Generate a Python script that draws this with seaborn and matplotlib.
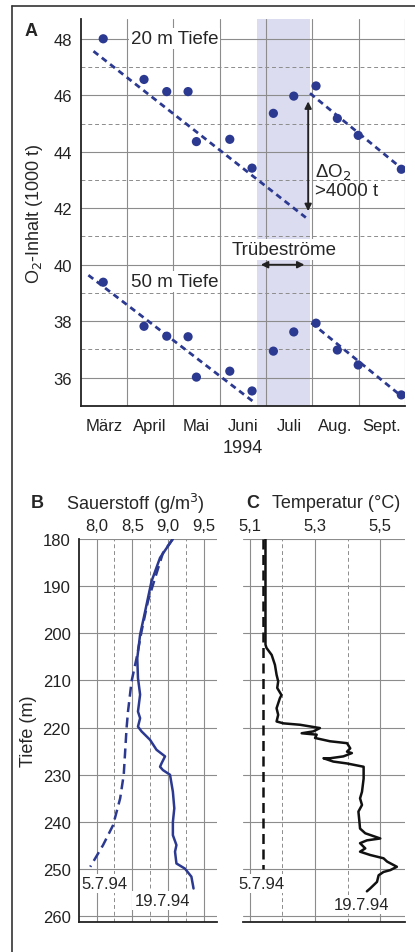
import numpy as np
import pandas as pd
import seaborn as sns
import matplotlib.pyplot as plt
from matplotlib.lines import Line2D

# --- panel A: O2 content, month position (0 = 1 March, 1 month per unit)
months = ['März', 'April', 'Mai', 'Juni', 'Juli', 'Aug.', 'Sept.']
t_obs = [0.49, 1.37, 1.86, 2.32, 2.50, 3.22, 3.70, 4.16, 4.60, 5.08, 5.54, 5.99, 6.92]
o2_20m = [48.0, 46.56, 46.13, 46.13, 44.36, 44.44, 43.42, 45.36, 45.97, 46.33, 45.18, 44.58, 43.38]
o2_50m = [39.38, 37.82, 37.47, 37.45, 36.02, 36.23, 35.53, 36.94, 37.62, 37.93, 36.98, 36.45, 35.39]
trend_20m_a = ([0.28, 4.86], [47.56, 41.67])
trend_20m_b = ([4.95, 6.95], [46.07, 43.38])
trend_50m_a = ([0.17, 3.76], [39.63, 35.11])
trend_50m_b = ([4.98, 6.92], [37.94, 35.35])
turbid = (3.81, 4.94)

# --- panel B: oxygen profiles (g/m3) vs depth (m)
o2_0507_val = [9.07, 8.93, 8.82, 8.72, 8.63, 8.56, 8.49, 8.44, 8.42, 8.38, 8.33, 8.23, 8.09, 7.91]
o2_0507_dep = [180, 183, 188.3, 193.2, 199.6, 205.3, 210.2, 216.6, 220.1, 230, 235, 240.7, 244.9, 249.5]
o2_1907_val = [9.07, 8.89, 8.77, 8.68, 8.61, 8.57, 8.58, 8.61, 8.58, 8.61, 8.58, 8.63, 8.75, 8.84,
               8.96, 8.91, 8.89, 8.93, 9.03, 9.07, 9.09, 9.07, 9.07, 9.12, 9.10, 9.12, 9.24, 9.33, 9.36]
o2_1907_dep = [180, 184, 189, 195.4, 200.3, 205.3, 209.5, 213, 216.6, 218, 219.8, 220.8, 222.6, 224.7,
               226.1, 227.6, 228.3, 229, 230, 233.6, 237.1, 240, 242.8, 244.9, 246.3, 248.8, 249.9, 251.6, 254.1]

# --- panel C: temperature profiles (°C) vs depth (m)
t_0507_val = [5.141, 5.141]
t_0507_dep = [180, 250]
t_1907_val = [5.148, 5.148, 5.151, 5.167, 5.177, 5.182, 5.187, 5.184, 5.197, 5.192, 5.182, 5.187, 5.182,
              5.203, 5.254, 5.315, 5.295, 5.259, 5.305, 5.300, 5.346, 5.398, 5.408, 5.398, 5.413, 5.387,
              5.346, 5.326, 5.356, 5.398, 5.449, 5.449, 5.444, 5.438, 5.444, 5.433, 5.436, 5.438, 5.454,
              5.500, 5.459, 5.438, 5.454, 5.438, 5.469, 5.510, 5.521, 5.551, 5.531, 5.510, 5.495, 5.490,
              5.469, 5.459]
t_1907_dep = [180, 202.4, 203.1, 204.6, 206.7, 208.8, 210.2, 211.6, 213.1, 213.8, 215.9, 217.3, 218.7,
              219.1, 219.4, 220.1, 220.8, 221.2, 221.5, 222.2, 222.9, 223.3, 224.4, 225.1, 225.4, 226.1,
              226.5, 226.5, 227.2, 227.6, 228.3, 230.8, 233.6, 235, 236.4, 237.8, 239.9, 241.4, 242.4,
              243.5, 243.9, 244.5, 245.6, 246.3, 247, 247.7, 248.4, 249.5, 250.2, 250.6, 251.3, 252.7,
              254.1, 254.7]

NAVY = '#2b3990'
GRID = '#8c8c8c'
TICK_FS = 12
TEXT_FS = 13

sns.set_theme(style='white')
plt.rcParams['font.family'] = ['Liberation Sans', 'DejaVu Sans']
plt.rcParams['font.size'] = TICK_FS

fig = plt.figure(figsize=(4.15, 9.53), dpi=100)
axA = fig.add_axes([0.194, 0.573, 0.782, 0.406])
axB = fig.add_axes([0.190, 0.0315, 0.333, 0.402])
axC = fig.add_axes([0.5855, 0.0315, 0.3905, 0.402])

# outer frame (left and top edge)
fig.add_artist(Line2D([0.03, 0.03], [0.0, 0.993], color='#333333', lw=1.2))
fig.add_artist(Line2D([0.03, 1.0], [0.993, 0.993], color='#333333', lw=1.2))


def style_grid(ax, xmaj, ymaj):
    ax.set_xticks(xmaj)
    ax.set_yticks(ymaj)
    ax.tick_params(which='both', length=0, labelsize=TICK_FS, colors='#222222')
    for sp in ax.spines.values():
        sp.set_visible(False)
    ax.set_axisbelow(True)


# ---------------- panel A
axA.set_xlim(0, 7)
axA.set_ylim(35, 48.7)
axA.axvspan(*turbid, color='#dcdcf0', lw=0, zorder=0)
for v in range(1, 8):
    axA.axvline(v, color=GRID, lw=0.8, zorder=1)
for v in range(36, 49, 2):
    axA.axhline(v, color=GRID, lw=0.8, zorder=1)
for v in range(37, 48, 2):
    axA.axhline(v, color=GRID, lw=0.7, ls=(0, (4, 3)), zorder=1)
style_grid(axA, np.arange(0.5, 7, 1), range(36, 49, 2))
axA.set_xticklabels(months)
axA.tick_params(axis='x', pad=9)
axA.tick_params(axis='y', pad=6)
for s in ('left', 'bottom'):
    axA.spines[s].set_visible(True)
    axA.spines[s].set_color('#222222')
    axA.spines[s].set_linewidth(1.3)

for tx, ty in (trend_20m_a, trend_20m_b, trend_50m_a, trend_50m_b):
    sns.lineplot(x=tx, y=ty, ax=axA, color=NAVY, lw=2.0, linestyle=(0, (2.2, 1.6)),
                 sort=False, estimator=None, zorder=3)
ptsA = pd.DataFrame({'t': t_obs * 2, 'o2': o2_20m + o2_50m})
sns.scatterplot(data=ptsA, x='t', y='o2', ax=axA, color=NAVY, s=44, edgecolor='none', zorder=4)

box = dict(facecolor='white', edgecolor='none', pad=1.5)
axA.text(1.08, 48.0, '20 m Tiefe', ha='left', va='center', fontsize=TEXT_FS + 0.5, bbox=box, zorder=2)
axA.text(1.08, 39.42, '50 m Tiefe', ha='left', va='center', fontsize=TEXT_FS + 0.5, bbox=box, zorder=2)
axA.text(4.40, 40.55, 'Trübeströme', ha='center', va='center', fontsize=TEXT_FS + 0.5, bbox=box, zorder=2)
axA.annotate('', xy=(3.83, 40.0), xytext=(4.89, 40.0),
             arrowprops=dict(arrowstyle='<|-|>', color='#222222', lw=1.3, mutation_scale=10), zorder=5)
axA.annotate('', xy=(4.91, 45.88), xytext=(4.91, 41.8),
             arrowprops=dict(arrowstyle='<|-|>', color='#222222', lw=1.3, mutation_scale=10), zorder=5)
axA.text(5.06, 43.3, 'ΔO$_2$', ha='left', va='center', fontsize=TEXT_FS + 0.5)
axA.text(5.05, 42.62, '>4000 t', ha='left', va='center', fontsize=TEXT_FS + 0.5)
axA.set_xlabel('1994', fontsize=TEXT_FS, labelpad=4)
axA.set_ylabel('O$_2$-Inhalt (1000 t)', fontsize=TEXT_FS, labelpad=6)
axA.text(-0.172, 0.97, 'A', transform=axA.transAxes, fontsize=TEXT_FS, fontweight='bold', va='center')

# ---------------- panel B
axB.set_xlim(7.75, 9.69)
axB.set_ylim(261.2, 180)
for v in (8.0, 8.5, 9.0, 9.5):
    axB.axvline(v, color=GRID, lw=0.8, zorder=1)
for v in (8.25, 8.75, 9.25):
    axB.axvline(v, color=GRID, lw=0.7, ls=(0, (4, 3)), zorder=1)
for v in range(180, 261, 10):
    axB.axhline(v, color=GRID, lw=0.8, zorder=1)
style_grid(axB, [8.0, 8.5, 9.0, 9.5], range(180, 261, 10))
axB.xaxis.tick_top()
axB.set_xticklabels(['8,0', '8,5', '9,0', '9,5'])
axB.tick_params(axis='x', pad=4)
axB.tick_params(axis='y', pad=6)
for s in ('left', 'bottom'):
    axB.spines[s].set_visible(True)
    axB.spines[s].set_color('#222222')
    axB.spines[s].set_linewidth(1.3)

sns.lineplot(x=o2_0507_val, y=o2_0507_dep, ax=axB, color=NAVY, lw=1.8, linestyle=(0, (4, 2.2)),
             sort=False, estimator=None, zorder=3)
sns.lineplot(x=o2_1907_val, y=o2_1907_dep, ax=axB, color=NAVY, lw=1.8,
             sort=False, estimator=None, zorder=3)
axB.text(7.785, 253.0, '5.7.94', ha='left', va='center', fontsize=TICK_FS, bbox=box, zorder=2)
axB.text(8.92, 256.7, '19.7.94', ha='center', va='center', fontsize=TICK_FS, bbox=box, zorder=2)
axB.set_ylabel('Tiefe (m)', fontsize=TEXT_FS)
axB.yaxis.set_label_coords(-0.3, 0.5)
axB.text(-0.345, 1.095, 'B', transform=axB.transAxes, fontsize=TEXT_FS, fontweight='bold', va='center')
axB.text(-0.09, 1.095, 'Sauerstoff (g/m$^3$)', transform=axB.transAxes, fontsize=TEXT_FS, va='center')

# ---------------- panel C
axC.set_xlim(5.079, 5.576)
axC.set_ylim(261.2, 180)
for v in (5.1, 5.3, 5.5):
    axC.axvline(v, color=GRID, lw=0.8, zorder=1)
for v in (5.2, 5.4):
    axC.axvline(v, color=GRID, lw=0.7, ls=(0, (4, 3)), zorder=1)
for v in range(180, 261, 10):
    axC.axhline(v, color=GRID, lw=0.8, zorder=1)
style_grid(axC, [5.1, 5.3, 5.5], range(180, 261, 10))
axC.xaxis.tick_top()
axC.set_xticklabels(['5,1', '5,3', '5,5'])
axC.tick_params(axis='x', pad=4)
axC.set_yticklabels([])
axC.spines['bottom'].set_visible(True)
axC.spines['bottom'].set_color('#222222')
axC.spines['bottom'].set_linewidth(1.3)

sns.lineplot(x=t_0507_val, y=t_0507_dep, ax=axC, color='#111111', lw=1.8, linestyle=(0, (4, 2.2)),
             sort=False, estimator=None, zorder=3)
sns.lineplot(x=t_1907_val, y=t_1907_dep, ax=axC, color='#111111', lw=1.8,
             sort=False, estimator=None, zorder=3)
axC.text(5.137, 253.0, '5.7.94', ha='center', va='center', fontsize=TICK_FS, bbox=box, zorder=2)
axC.text(5.444, 257.4, '19.7.94', ha='center', va='center', fontsize=TICK_FS, bbox=box, zorder=2)
axC.text(0.02, 1.095, 'C', transform=axC.transAxes, fontsize=TEXT_FS, fontweight='bold', va='center')
axC.text(0.18, 1.095, 'Temperatur (°C)', transform=axC.transAxes, fontsize=TEXT_FS, va='center')

fig.savefig('out.png', dpi=100)
